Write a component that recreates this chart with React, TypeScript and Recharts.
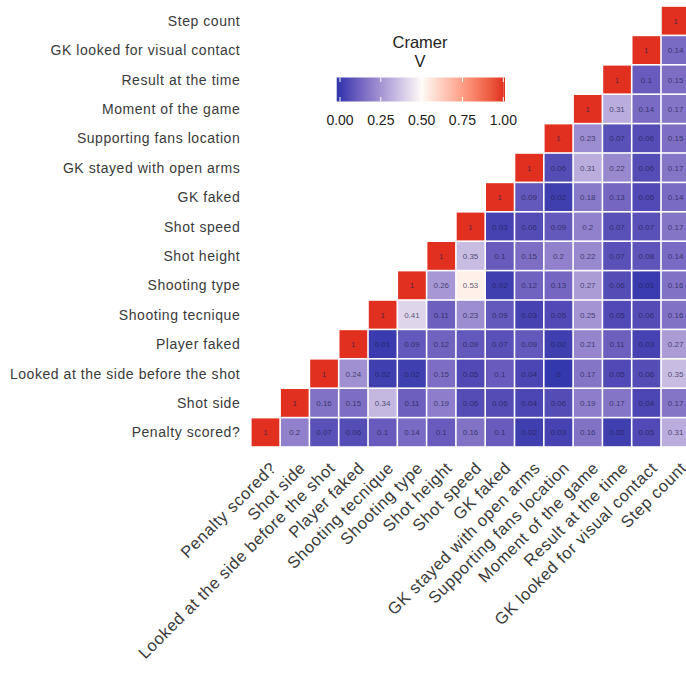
import {ScatterChart, Scatter, XAxis, YAxis} from 'recharts';

// variable names, same order on both axes
const labels = [
  'Penalty scored?',
  'Shot side',
  'Looked at the side before the shot',
  'Player faked',
  'Shooting tecnique',
  'Shooting type',
  'Shot height',
  'Shot speed',
  'GK faked',
  'GK stayed with open arms',
  'Supporting fans location',
  'Moment of the game',
  'Result at the time',
  'GK looked for visual contact',
  'Step count',
];

// upper triangle, each row starts on the diagonal
const rowPenalty = [1, 0.2, 0.07, 0.06, 0.1, 0.14, 0.1, 0.16, 0.1, 0.02, 0.03, 0.16, 0.02, 0.05, 0.31];
const rowShotSide = [1, 0.16, 0.15, 0.34, 0.11, 0.19, 0.06, 0.06, 0.04, 0.06, 0.19, 0.17, 0.04, 0.17];
const rowLooked = [1, 0.24, 0.02, 0.02, 0.15, 0.05, 0.1, 0.04, 0, 0.17, 0.05, 0.06, 0.35];
const rowPlayerFaked = [1, 0.01, 0.09, 0.12, 0.09, 0.07, 0.09, 0.02, 0.21, 0.11, 0.03, 0.27];
const rowTecnique = [1, 0.41, 0.11, 0.23, 0.09, 0.03, 0.05, 0.25, 0.05, 0.06, 0.16];
const rowType = [1, 0.26, 0.53, 0.02, 0.12, 0.13, 0.27, 0.06, 0.01, 0.16];
const rowHeight = [1, 0.35, 0.1, 0.15, 0.2, 0.22, 0.07, 0.08, 0.14];
const rowSpeed = [1, 0.03, 0.06, 0.09, 0.2, 0.07, 0.07, 0.17];
const rowGkFaked = [1, 0.09, 0.02, 0.18, 0.13, 0.05, 0.14];
const rowOpenArms = [1, 0.06, 0.31, 0.22, 0.06, 0.17];
const rowFans = [1, 0.23, 0.07, 0.06, 0.15];
const rowMoment = [1, 0.31, 0.14, 0.17];
const rowResult = [1, 0.1, 0.15];
const rowVisual = [1, 0.14];
const rowSteps = [1];

const legendTicks = [0, 0.25, 0.5, 0.75, 1];

const rows = [rowPenalty, rowShotSide, rowLooked, rowPlayerFaked, rowTecnique, rowType, rowHeight,
  rowSpeed, rowGkFaked, rowOpenArms, rowFans, rowMoment, rowResult, rowVisual, rowSteps];

const cells: any[] = [];
rows.forEach((row, r) => {
  row.forEach((v, k) => {
    cells.push({x: r + k, y: r, v});
  });
});

// colour scale (low / mid / high, mixed in Lab like ggplot)
const LOW = '#3438ad';
const MID = '#fffbf7';
const HIGH = '#e1301f';

const hex = (h: string) => [1, 3, 5].map(i => parseInt(h.slice(i, i + 2), 16) / 255);
const lin = (c: number) => (c <= 0.04045 ? c / 12.92 : Math.pow((c + 0.055) / 1.055, 2.4));
const gam = (c: number) => (c <= 0.0031308 ? 12.92 * c : 1.055 * Math.pow(c, 1 / 2.4) - 0.055);
const toLab = (h: string) => {
  const [r, g, b] = hex(h).map(lin);
  const X = (0.4124 * r + 0.3576 * g + 0.1805 * b) / 0.95047;
  const Y = 0.2126 * r + 0.7152 * g + 0.0722 * b;
  const Z = (0.0193 * r + 0.1192 * g + 0.9505 * b) / 1.08883;
  const f = (t: number) => (t > 0.008856 ? Math.cbrt(t) : 7.787 * t + 16 / 116);
  return [116 * f(Y) - 16, 500 * (f(X) - f(Y)), 200 * (f(Y) - f(Z))];
};
const fromLab = ([L, a, b]: number[]) => {
  const fy = (L + 16) / 116, fx = fy + a / 500, fz = fy - b / 200;
  const fi = (t: number) => (t * t * t > 0.008856 ? t * t * t : (t - 16 / 116) / 7.787);
  const X = fi(fx) * 0.95047, Y = fi(fy), Z = fi(fz) * 1.08883;
  const r = 3.2406 * X - 1.5372 * Y - 0.4986 * Z;
  const g = -0.9689 * X + 1.8758 * Y + 0.0415 * Z;
  const bl = 0.0557 * X - 0.204 * Y + 1.057 * Z;
  return '#' + [r, g, bl].map(c => Math.round(Math.min(1, Math.max(0, gam(c))) * 255).toString(16).padStart(2, '0')).join('');
};
const mix = (a: string, b: string, t: number) => {
  const la = toLab(a), lb = toLab(b);
  return fromLab(la.map((v, i) => v + (lb[i] - v) * t));
};
const colorOf = (v: number) => (v <= 0.5 ? mix(LOW, MID, v / 0.5) : mix(MID, HIGH, (v - 0.5) / 0.5));

const PLOT_LEFT = 250.8;
const PLOT_RIGHT = 690.3;
const PLOT_TOP = 6;
const PLOT_BOTTOM = 447;
const CW = (PLOT_RIGHT - PLOT_LEFT) / 15;
const CH = (PLOT_BOTTOM - PLOT_TOP) / 15;
const FONT = 'Liberation Sans, Arial, sans-serif';

const Cell = (props: any) => {
  const {cx, cy, payload} = props;
  const w = CW - 1.6, h = CH - 1.6;
  return (
    <g>
      <rect x={cx - w / 2} y={cy - h / 2} width={w} height={h} fill={colorOf(payload.v)} />
      <text x={cx} y={cy + 3} textAnchor="middle" fontSize={8} fontFamily={FONT} fill="#1e1e4e" fillOpacity={0.75}>
        {String(payload.v)}
      </text>
    </g>
  );
};

const YTick = (props: any) => {
  const {y, payload} = props;
  return (
    <text x={PLOT_LEFT - 10.5} y={y + 5} textAnchor="end" fontSize={14} letterSpacing={0.55} fontFamily={FONT} fill="#3a3a3a">
      {labels[payload.value]}
    </text>
  );
};

const XTick = (props: any) => {
  const {x, payload} = props;
  const bx = x + 12, by = 469;
  return (
    <text x={bx} y={by} textAnchor="end" fontSize={16.5} letterSpacing={0.6} fontFamily={FONT} fill="#3a3a3a"
      transform={`rotate(-45, ${bx}, ${by})`}>
      {labels[payload.value]}
    </text>
  );
};

const Legend = () => {
  const x0 = 340, x1 = 503.3;
  const stops = Array.from({length: 21}, (_, i) => i / 20);
  return (
    <svg width={686} height={140} style={{position: 'absolute', left: 0, top: 0}}>
      <defs>
        <linearGradient id="cv" x1="0" x2="1" y1="0" y2="0">
          {stops.map(s => <stop key={s} offset={s} stopColor={colorOf(s)} />)}
        </linearGradient>
      </defs>
      <text x={420} y={48} textAnchor="middle" fontSize={16.5} fontFamily={FONT} fill="#222">Cramer</text>
      <text x={420} y={67} textAnchor="middle" fontSize={16.5} fontFamily={FONT} fill="#222">V</text>
      <rect x={x0} y={77.5} width={x1 - x0} height={24} fill="url(#cv)" />
      <rect x={336.7} y={77.5} width={3.3} height={24} fill={colorOf(0)} />
      <rect x={x1} y={77.5} width={1.7} height={24} fill={colorOf(1)} />
      {legendTicks.map(t => {
        const tx = x0 + t * (x1 - x0);
        return (
          <g key={t}>
            <line x1={tx} x2={tx} y1={77.5} y2={82} stroke="#fff" strokeWidth={1} />
            <line x1={tx} x2={tx} y1={97} y2={101.5} stroke="#fff" strokeWidth={1} />
            <text x={tx} y={125} textAnchor="middle" fontSize={14} fontFamily={FONT} fill="#222">{t.toFixed(2)}</text>
          </g>
        );
      })}
    </svg>
  );
};

const App = () => {
  return (
    <div style={{position: 'absolute', left: 0, top: 0, width: 686, height: 684, overflow: 'hidden', background: '#fff'}}>
      <ScatterChart width={700} height={684} margin={{top: PLOT_TOP, right: 700 - PLOT_RIGHT, bottom: 7, left: PLOT_LEFT - 240}}>
        <XAxis type="number" dataKey="x" domain={[-0.5, 14.5]} ticks={labels.map((_, i) => i)} interval={0}
          axisLine={false} tickLine={false} height={230} tick={<XTick />} />
        <YAxis type="number" dataKey="y" domain={[-0.5, 14.5]} ticks={labels.map((_, i) => i)} interval={0}
          axisLine={false} tickLine={false} width={240} tick={<YTick />} />
        <Scatter data={cells} shape={<Cell />} isAnimationActive={false} />
      </ScatterChart>
      <Legend />
    </div>
  );
};

export default App;
